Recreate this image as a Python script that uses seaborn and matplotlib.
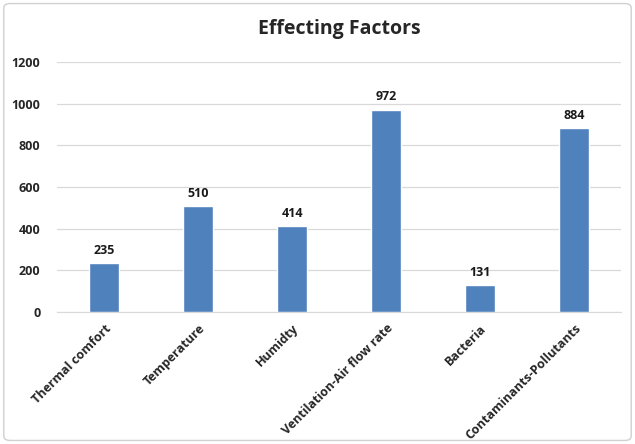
import pandas as pd
import seaborn as sns
import matplotlib.pyplot as plt
from matplotlib.patches import FancyBboxPatch

# chart data
factors = ["Thermal comfort", "Temperature", "Humidty", "Ventilation-Air flow rate",
           "Bacteria", "Contaminants-Pollutants"]
counts = [235, 510, 414, 972, 131, 884]
y_ticks = [0, 200, 400, 600, 800, 1000, 1200]

df = pd.DataFrame({"factor": factors, "count": counts})

sns.set_style("white")
plt.rcParams['font.family'] = ['Open Sans', 'DejaVu Sans']

fig = plt.figure(figsize=(6.35, 4.44), dpi=100)
ax = fig.add_axes([0.09, 0.297, 0.888, 0.563])

sns.barplot(data=df, x="factor", y="count", color="#4F81BD", width=0.32,
            saturation=1, ax=ax, zorder=3)

for i, v in enumerate(counts):
    ax.text(i, v + 30, str(v), ha="center", va="bottom",
            fontsize=9, fontweight="bold", color="#1a1a1a")

ax.set_ylim(0, 1200)
ax.set_yticks(y_ticks)
ax.set_yticklabels([str(t) for t in y_ticks], fontsize=9, fontweight="bold")
ax.set_xticks(range(len(factors)))
ax.set_xticklabels(factors, rotation=45, ha="right", rotation_mode="anchor",
                   fontsize=9, fontweight="bold")
ax.tick_params(axis="x", length=0, pad=7)
ax.tick_params(axis="y", length=0, pad=12)
ax.set_xlabel("")
ax.set_ylabel("")
ax.grid(axis="y", color="#D9D9D9", linewidth=0.9, zorder=0)
for s in ["top", "right", "left"]:
    ax.spines[s].set_visible(False)
ax.spines["bottom"].set_color("#D9D9D9")
ax.set_title("Effecting Factors", fontsize=14, fontweight="bold", pad=20)

border = FancyBboxPatch((0.006, 0.008), 0.988, 0.984, boxstyle="round,pad=0,rounding_size=0.01",
                        transform=fig.transFigure, fill=False, edgecolor="#D0D0D0",
                        linewidth=1, zorder=-1)
fig.patches.append(border)

fig.savefig("out.png", dpi=100)
